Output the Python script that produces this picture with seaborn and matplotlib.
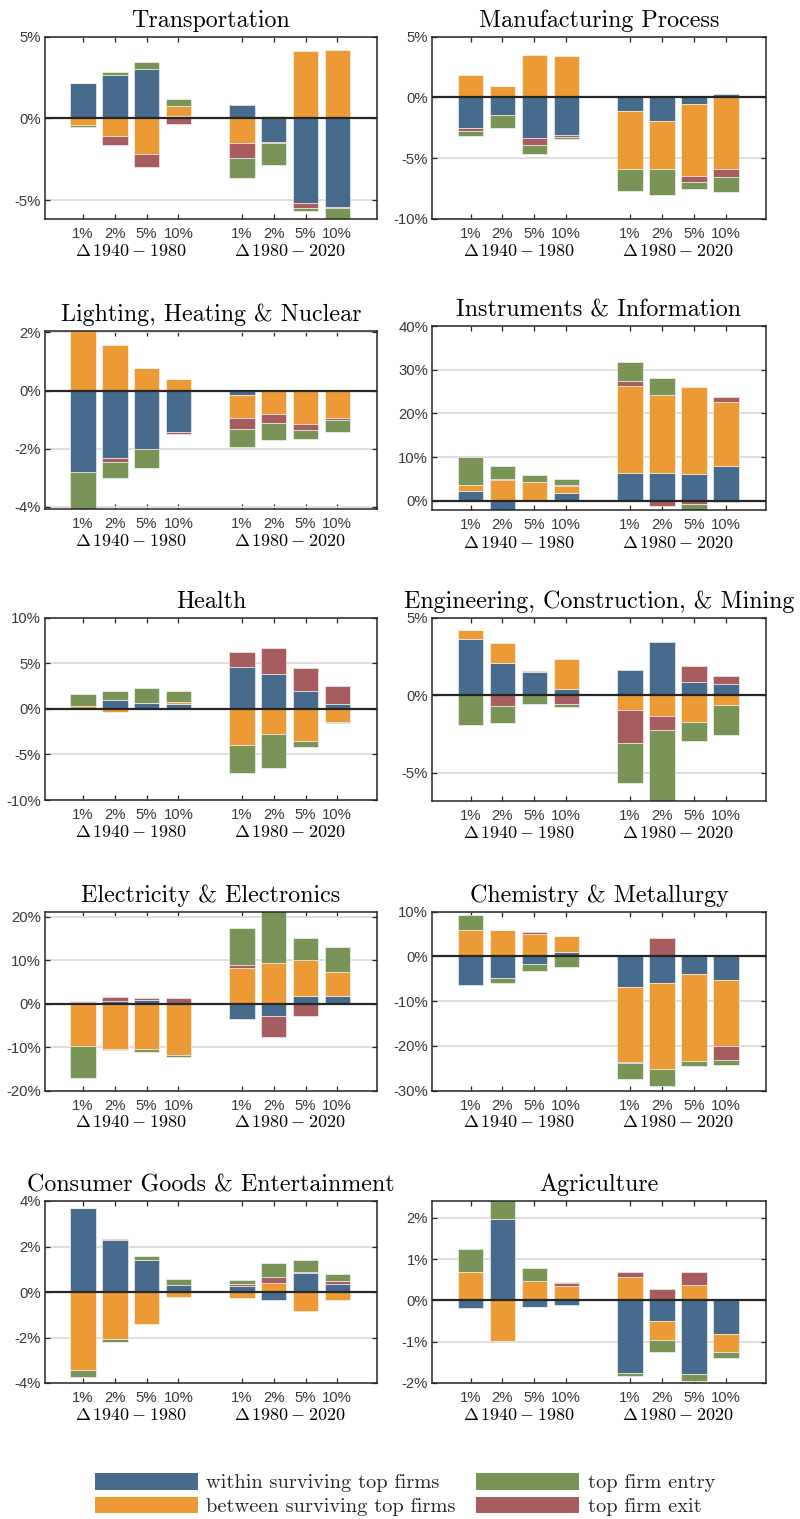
import numpy as np
import matplotlib
matplotlib.use("Agg")
import matplotlib.pyplot as plt
import matplotlib.transforms as mtransforms
from matplotlib.patches import Patch
import seaborn as sns

sectors = [
    "Transportation",
    "Manufacturing Process",
    "Lighting, Heating & Nuclear",
    "Instruments & Information",
    "Health",
    "Engineering, Construction, & Mining",
    "Electricity & Electronics",
    "Chemistry & Metallurgy",
    "Consumer Goods & Entertainment",
    "Agriculture",
]
thresholds = ["1%", "2%", "5%", "10%"]
periods = [r"$\Delta\,1940-1980$", r"$\Delta\,1980-2020$"]
components = [
    "within surviving top firms",
    "between surviving top firms",
    "top firm entry",
    "top firm exit",
]

# percentage points; 1%,2%,5%,10% for 1940-1980, then the same for 1980-2020
within = [
    [2.14, 2.65, 3.04, 0.18, 0.82, -1.41, -5.16, -5.41],      # Transportation
    [-2.51, -1.48, -3.33, -3.09, -1.09, -1.91, -0.55, 0.25],  # Manufacturing
    [-2.82, -2.31, -2.02, -1.42, -0.16, 0, 0, 0],             # Lighting
    [2.15, -2.50, 0, 1.77, 6.30, 6.30, 6.08, 7.92],           # Instruments
    [0, 0.92, 0.66, 0.48, 4.56, 3.79, 1.91, 0.48],            # Health
    [3.60, 2.11, 1.49, 0.43, 1.64, 3.41, 0.84, 0.73],         # Engineering
    [0.38, 0.60, 0.85, 0.30, -3.60, -2.70, 1.85, 1.77],       # Electricity
    [-6.42, -4.85, -1.72, 1.04, -6.79, -5.97, -3.88, -5.30],  # Chemistry
    [3.69, 2.28, 1.40, 0.29, 0.25, -0.37, 0.82, 0.35],        # Consumer
    [-0.19, 1.98, -0.15, -0.10, -1.76, -0.49, -1.77, -0.81],  # Agriculture
]
between = [
    [-0.43, -1.06, -2.18, 0.57, -1.53, 0.12, 4.12, 4.18],
    [1.83, 0.96, 3.50, 3.44, -4.78, -3.96, -5.93, -5.87],
    [2.30, 1.57, 0.78, 0.38, -0.79, -0.81, -1.15, -0.93],
    [1.46, 4.70, 4.23, 1.69, 20.08, 17.85, 19.85, 14.62],
    [0.29, -0.33, 0, 0.29, -4.00, -2.79, -3.53, -1.43],
    [0.60, 1.29, 0, 1.92, -0.93, -1.31, -1.72, -0.65],
    [-9.60, -10.46, -10.46, -11.77, 8.23, 9.46, 8.15, 5.62],
    [5.97, 5.82, 5.07, 3.43, -16.79, -19.25, -19.55, -14.70],
    [-3.45, -2.07, -1.39, -0.23, -0.26, 0.41, -0.82, -0.37],
    [0.69, -0.98, 0.47, 0.36, 0.56, -0.47, 0.38, -0.43],
]
exits = [
    [0, -0.57, -0.78, -0.35, -0.90, -0.08, -0.29, -0.08],
    [-0.25, 0, -0.55, -0.16, 0, 0.10, -0.49, -0.66],
    [0, -0.14, 0, -0.09, -0.39, -0.32, -0.22, -0.09],
    [0, 0.38, 0.15, 0.23, 1.08, -1.20, -0.80, 1.15],
    [0, 0, 0, 0, 1.69, 2.87, 2.54, 2.06],
    [0, -0.71, 0.06, -0.56, -2.18, -0.95, 1.03, 0.50],
    [0.38, 1.08, 0.60, 1.00, 0.69, -5.00, -2.77, 0],
    [0, 0, 0.37, 0, -0.22, 4.10, 0.37, -3.13],
    [0, 0.03, 0, 0, 0.10, 0.25, 0.07, 0.15],
    [0, 0, -0.01, 0.06, 0.12, 0.28, 0.31, 0],
]
entries = [
    [-0.08, 0.20, 0.39, 0.41, -1.20, -1.33, -0.20, -0.90],
    [-0.41, -1.07, -0.74, -0.16, -1.86, -2.13, -0.57, -1.26],
    [-1.50, -0.55, -0.66, 0, -0.61, -0.59, -0.30, -0.41],
    [6.46, 2.85, 1.46, 1.31, 4.38, 3.85, -1.50, -0.20],
    [1.32, 1.07, 1.62, 1.18, -3.05, -3.71, -0.66, -0.07],
    [-1.94, -1.08, -0.56, -0.19, -2.56, -4.80, -1.25, -1.90],
    [-7.40, -0.23, -0.54, -0.54, 8.46, 13.50, 5.08, 5.77],
    [3.36, -1.19, -1.42, -2.46, -3.51, -3.73, -1.12, -1.12],
    [-0.29, -0.12, 0.20, 0.26, 0.18, 0.63, 0.50, 0.30],
    [0.56, 0.60, 0.32, 0.03, -0.08, -0.30, -0.17, -0.16],
]

# axis ranges and tick step per panel
ylims = [(-6.15, 5), (-10, 5), (-4.08, 2.05), (-2.1, 40), (-10, 10),
         (-6.8, 5), (-20, 21.2), (-30, 10), (-4, 4), (-2, 2.41)]
ysteps = [5, 5, 2, 10, 5, 5, 10, 10, 2, 1]

# panel boxes in pixels (top, bottom)
tops = [36.7, 36.7, 331, 326, 617.7, 617.7, 911.7, 911.7, 1201, 1201]
bottoms = [219, 219, 509, 510, 800, 800.7, 1090.7, 1090.7, 1383, 1383]
lefts = [45, 432.3]
rights = [377, 765.7]

c_within, c_between, c_entry, c_exit = sns.color_palette(
    ["#476B8C", "#EB9A35", "#7A9357", "#A75C60"])

sns.set_theme(style="ticks")
plt.rcParams["font.family"] = ["Liberation Sans", "DejaVu Sans"]
plt.rcParams["mathtext.fontset"] = "cm"
ink = "#262626"
label_ink = "#3a3a3a"

W, H = 800, 1519
fig = plt.figure(figsize=(W / 100, H / 100), dpi=100)

pos = np.r_[np.arange(1, 5), np.arange(6, 10)]

for i, name in enumerate(sectors):
    col = i % 2
    l, r = lefts[col], rights[col]
    t, b = tops[i], bottoms[i]
    ax = fig.add_axes([l / W, 1 - b / H, (r - l) / W, (b - t) / H])

    pos_base = np.zeros(len(pos))
    neg_base = np.zeros(len(pos))
    layers = [(within[i], c_within), (between[i], c_between),
              (exits[i], c_exit), (entries[i], c_entry)]
    for vals, color in layers:
        v = np.asarray(vals, dtype=float)
        base = np.where(v >= 0, pos_base, neg_base)
        sns.barplot(x=pos, y=v, bottom=base, native_scale=True, color=color,
                    saturation=1, errorbar=None, width=0.8,
                    edgecolor=(1, 1, 1, 0.55), linewidth=0.7, ax=ax, zorder=2)
        pos_base += np.clip(v, 0, None)
        neg_base += np.clip(v, None, 0)

    ax.axhline(0, color=ink, lw=1.6, zorder=4)

    lo, hi = ylims[i]
    step = ysteps[i]
    ticks = np.arange(np.ceil(lo / step - 1e-9) * step, hi + 1e-9, step)
    ax.set_ylim(lo, hi)
    ax.set_yticks(ticks)
    ax.set_yticklabels([f"{int(round(v))}%" for v in ticks])
    ax.set_xlim(-0.2, 10.25)
    ax.set_xticks(pos)
    ax.set_xticklabels(thresholds * 2)
    ax.set_xlabel("")
    ax.set_ylabel("")

    ax.yaxis.grid(True, color="#dddddd", lw=1.3)
    ax.set_axisbelow(True)
    for s in ax.spines.values():
        s.set_color(ink)
        s.set_linewidth(1.1)
    ax.tick_params(direction="in", top=True, right=True, length=3.5,
                   width=0.9, color=ink, labelcolor=label_ink, labelsize=10.7)
    ax.tick_params(axis="x", pad=6)
    ax.tick_params(axis="y", pad=3)

    ax.set_title(name, fontsize=17.3, family="cmr10", pad=7, color="black")

    trans = mtransforms.blended_transform_factory(ax.transData, ax.transAxes)
    for xc, lab in zip([2.5, 7.5], periods):
        ax.text(xc, -0.18, lab, transform=trans, ha="center", va="center",
                fontsize=13, color="black")

handles = [Patch(facecolor=c, edgecolor="none")
           for c in [c_within, c_between, c_entry, c_exit]]
fig.legend(handles, components, ncol=2, loc="center",
           bbox_to_anchor=(405 / W, 1 - 1494.5 / H), frameon=False,
           prop={"family": "cmr10", "size": 14.7}, handlelength=5.05,
           handleheight=0.9, handletextpad=0.41, columnspacing=1.0,
           labelspacing=0.2, borderpad=0.1)

fig.savefig("out.png", dpi=100)
